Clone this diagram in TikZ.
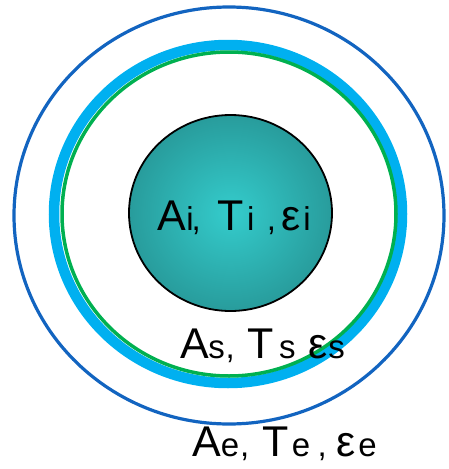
\documentclass[tikz,border=0pt]{standalone}
\usepackage{fontspec}
\setmainfont{Liberation Sans}
\usetikzlibrary{positioning}
\definecolor{shellblue}{RGB}{18,100,192}
\definecolor{skyblue}{RGB}{0,176,240}
\definecolor{leafgreen}{RGB}{0,176,80}
\definecolor{tealcore}{RGB}{52,204,204}
\definecolor{tealedge}{RGB}{40,156,156}
\newcommand{\bigsym}[1]{{\fontsize{43}{48}\selectfont #1}}
\newcommand{\smallsym}[1]{{\fontsize{33}{38}\selectfont #1}}

\begin{document}
\begin{tikzpicture}[x=1pt,y=-1pt]
\useasboundingbox (0,0) rectangle (449,469);
% outer boundary
\draw[shellblue,line width=3.2pt] (229,215.5) ellipse (215 and 208.5);
% shield surface
\draw[skyblue,line width=10.5pt] (228,214) ellipse (174 and 169);
\draw[leafgreen,line width=3.5pt] (229,214) ellipse (167 and 162);
% inner body
\shade[inner color=tealcore,outer color=tealedge,draw=black,line width=1.8pt] (230.5,213) ellipse (101.5 and 98);
\node[anchor=base west,inner sep=0] (inner) at (157.5,230) {\bigsym{A}\smallsym{i}\hspace{-2pt}\smallsym{,}\hspace{16.3pt}\bigsym{T}\hspace{3.8pt}\smallsym{i}\hspace{12.2pt}\smallsym{,}\hspace{5.5pt}\bigsym{ε}\hspace{2.7pt}\smallsym{i}};
\node[anchor=base west,inner sep=0] (surf) at (180,358.3) {\bigsym{A}\hspace{-0.5pt}\smallsym{s}\hspace{0.8pt}\smallsym{,}\hspace{12.3pt}\bigsym{T}\hspace{5.7pt}\smallsym{s}\hspace{12.5pt}\bigsym{ε}\hspace{1.2pt}\smallsym{s}};
\node[anchor=base west,inner sep=0] (ext) at (192.3,456) {\bigsym{A}\hspace{-0.3pt}\smallsym{e}\hspace{1pt}\smallsym{,}\hspace{12.8pt}\bigsym{T}\hspace{3.4pt}\smallsym{e}\hspace{7.3pt}\smallsym{,}\hspace{9.5pt}\bigsym{ε}\hspace{2.9pt}\smallsym{e}};
\end{tikzpicture}
\end{document}
